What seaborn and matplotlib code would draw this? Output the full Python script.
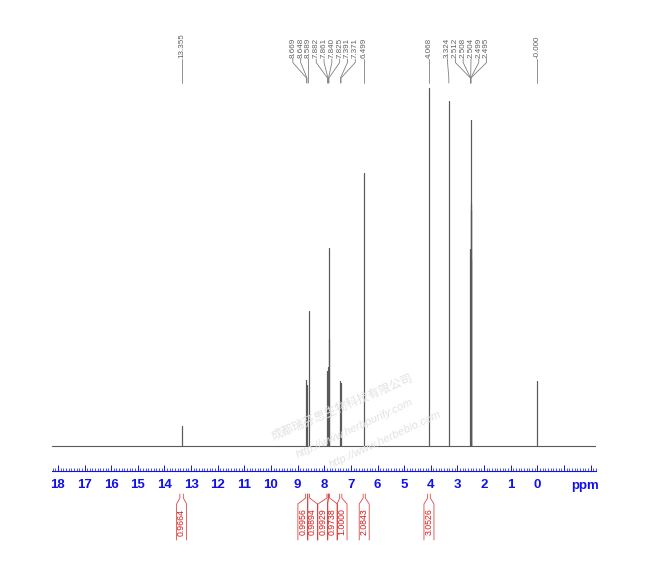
import matplotlib
matplotlib.use("Agg")
import matplotlib.pyplot as plt
import numpy as np
import pandas as pd
import seaborn as sns

# Пики (ppm) и относительная высота линий (самый высокий = 100)
peak_ppm = [13.355, 8.669, 8.648, 8.589, 7.882, 7.861, 7.840, 7.825,
            7.391, 7.371, 6.499, 4.068, 3.324,
            2.512, 2.508, 2.504, 2.499, 2.495, -0.0]
peak_height = [5.6, 18.4, 17.0, 37.7, 21.0, 22.0, 55.3, 30.0,
               18.2, 17.5, 76.3, 100.0, 96.4,
               55.0, 68.0, 91.1, 66.0, 52.0, 18.2]

# Интегралы: границы области (ppm) и значение
integral_from = [13.42, 8.70, 8.62, 7.90, 7.85, 7.42, 6.54, 4.12]
integral_to = [13.29, 8.62, 8.55, 7.85, 7.80, 7.34, 6.46, 4.02]
integral_value = [0.9664, 0.9956, 0.9894, 0.9929, 0.9738, 1.0000, 2.0843, 3.0526]

major_ticks = list(range(-2, 19))
X_LEFT, X_RIGHT = 18.22, -2.2

BLUE = "#1010f0"
RED = "#d81818"

W, H = 650, 582


def box(left, top, right, bottom):
    return [left / W, 1 - bottom / H, (right - left) / W, (bottom - top) / H]


def spread(centers, gap):
    """Раздвигает подписи (по убыванию ppm) так, чтобы между ними был зазор gap."""
    groups = []
    for c in sorted(-np.asarray(centers, dtype=float)):
        groups.append([c])
        while len(groups) > 1:
            a, b = groups[-2], groups[-1]
            a_end = np.mean(a) + (len(a) - 1) * gap / 2
            b_start = np.mean(b) - (len(b) - 1) * gap / 2
            if b_start - a_end < gap:
                groups[-2:] = [a + b]
            else:
                break
    out = []
    for g in groups:
        m = np.mean(g)
        out += [m + (k - (len(g) - 1) / 2) * gap for k in range(len(g))]
    return [-v for v in out]


sns.set_theme(style="white")
plt.rcParams["font.family"] = ["Liberation Sans", "DejaVu Sans"]

fig = plt.figure(figsize=(W / 100, H / 100), dpi=100)
ax = fig.add_axes(box(52, 88, 596, 471))
ax_top = fig.add_axes(box(52, 33, 596, 86), sharex=ax)
ax_bot = fig.add_axes(box(52, 490, 596, 546), sharex=ax)

# Спектр: базовая линия с линиями пиков
xs, ys = [X_LEFT], [0.0]
for p, h in zip(peak_ppm, peak_height):
    xs += [p, p, p]
    ys += [0.0, h, 0.0]
xs.append(X_RIGHT)
ys.append(0.0)
spec = pd.DataFrame({"ppm": xs, "I": ys})
sns.lineplot(data=spec, x="ppm", y="I", sort=False, estimator=None,
             color="#5a5a5a", linewidth=0.8, ax=ax)

ax.set_xlim(X_LEFT, X_RIGHT)
ax.set_ylim(-6.98, 100)
ax.set_xlabel("")
ax.set_ylabel("")
ax.set_yticks([])
for s in ("left", "right", "top"):
    ax.spines[s].set_visible(False)
ax.spines["bottom"].set_color(BLUE)
ax.spines["bottom"].set_linewidth(0.8)
ax.set_xticks(major_ticks)
ax.set_xticklabels([str(t) if t >= 0 else "" for t in major_ticks])
ax.set_xticks(np.arange(-22, 183) / 10, minor=True)
ax.tick_params(axis="x", which="both", bottom=True, direction="in", color=BLUE)
ax.tick_params(axis="x", which="major", length=4.5, width=0.7,
               labelcolor=BLUE, labelsize=9.5, pad=6)
ax.tick_params(axis="x", which="minor", length=2, width=0.5)
for lbl in ax.get_xticklabels():
    lbl.set_fontweight("bold")
ax.annotate("ppm", xy=(-1.79, 0), xycoords=("data", "axes fraction"),
            xytext=(0, -6.5), textcoords="offset points", ha="center", va="top",
            fontsize=9.5, fontweight="bold", color=BLUE)

# Подписи пиков сверху
ax_top.set_ylim(86, 33)
ax_top.axis("off")
gap_ppm = 7.8 / (544 / (X_LEFT - X_RIGHT))
for p, xl in zip(peak_ppm, spread(peak_ppm, gap_ppm)):
    ax_top.text(xl, 58.5, f"{p:.3f}", rotation=90, ha="center", va="bottom",
                fontsize=5.8, color="#606060")
    ax_top.plot([xl, xl, p, p], [59, 62.5, 78, 83], color="#808080", lw=0.6)

# Интегралы снизу
ax_bot.set_ylim(546, 490)
ax_bot.axis("off")
centers = [(a + b) / 2 for a, b in zip(integral_from, integral_to)]
w = 5 / (544 / (X_LEFT - X_RIGHT))
for a, b, v, c in zip(integral_from, integral_to, integral_value,
                      spread(centers, 9.6 * w / 5)):
    ax_bot.plot([a, a, c + w, c + w], [494, 498, 504, 540], color=RED, lw=0.6, alpha=0.8)
    ax_bot.plot([b, b, c - w, c - w], [494, 498, 504, 540], color=RED, lw=0.6, alpha=0.8)
    ax_bot.text(c, 522, f"{v:.4f}", rotation=90, ha="center", va="center",
                fontsize=6.3, color=RED)

# Водяной знак
wm = dict(color="#e2e2e2", zorder=0, ha="center", va="center")
fig.text(342 / W, 1 - 407 / H, "成都瑞芬思生物科技有限公司", rotation=23, fontsize=8.5,
         family=["Noto Sans CJK SC", "DejaVu Sans"], **wm)
fig.text(355 / W, 1 - 428 / H, "http://www.herbpurify.com", rotation=25,
         fontsize=8, style="italic", **wm)
fig.text(385 / W, 1 - 440 / H, "http://www.herbebio.com", rotation=25,
         fontsize=8, style="italic", **wm)

fig.savefig("out.png", dpi=100)
